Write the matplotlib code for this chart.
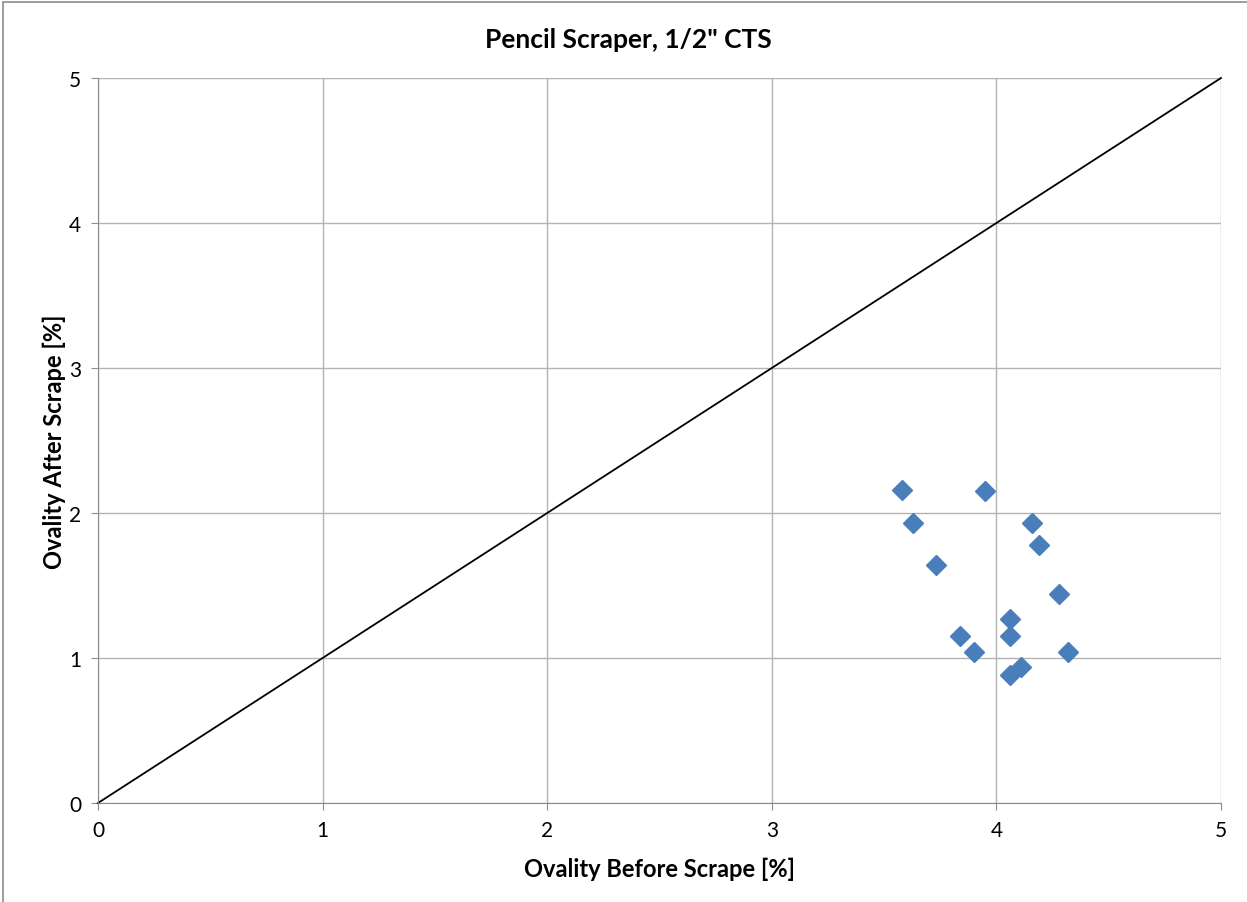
import numpy as np
import matplotlib
matplotlib.use('Agg')
import matplotlib.pyplot as plt
from matplotlib.patches import Rectangle

plt.rcParams['font.family'] = ['Lato', 'DejaVu Sans']

# ovality data
before = [3.58, 3.95, 3.63, 4.16, 4.19, 3.73, 4.28, 4.06, 4.06, 3.84, 3.90, 4.32, 4.11, 4.06]
after = [2.16, 2.15, 1.93, 1.93, 1.78, 1.64, 1.44, 1.27, 1.15, 1.15, 1.04, 1.04, 0.94, 0.88]
ref_line = [0, 5]
ticks = [0, 1, 2, 3, 4, 5]

fig = plt.figure(figsize=(12.47, 9.03), dpi=100)
ax = fig.add_axes([98/1247, 99/903, 1123/1247, 725/903])

# chart border
fig.patches.append(Rectangle((3/1247, -0.01), 1.02, 1.0 - 3/903 + 0.01, transform=fig.transFigure,
                             fill=False, edgecolor='#8c8c8c', linewidth=1.2))

ax.plot(ref_line, ref_line, color='black', linewidth=1.3, zorder=2, clip_on=False)
ax.plot(before, after, linestyle='none', marker='D', markersize=10.5,
        color='#4a7ebb', markeredgecolor='#4a7ebb', zorder=3)

ax.set_xlim(0, 5)
ax.set_ylim(0, 5)
ax.set_xticks(ticks)
ax.set_yticks(ticks)
ax.grid(True, color='#b3b3b3', linewidth=1)
ax.set_axisbelow(True)
for side in ['top', 'right']:
    ax.spines[side].set_visible(False)
for side in ['left', 'bottom']:
    ax.spines[side].set_color('#8c8c8c')
ax.tick_params(direction='out', length=5, color='#8c8c8c', labelsize=15, pad=7)

fig.text(628/1247, 1 - 40/903, 'Pencil Scraper, 1/2" CTS', fontsize=19, fontweight='bold',
         ha='center', va='center')
ax.set_xlabel('Ovality Before Scrape [%]', fontsize=17, fontweight='bold', labelpad=12)
ax.set_ylabel('Ovality After Scrape [%]', fontsize=17, fontweight='bold', labelpad=2)

fig.savefig('out.png', dpi=100)
